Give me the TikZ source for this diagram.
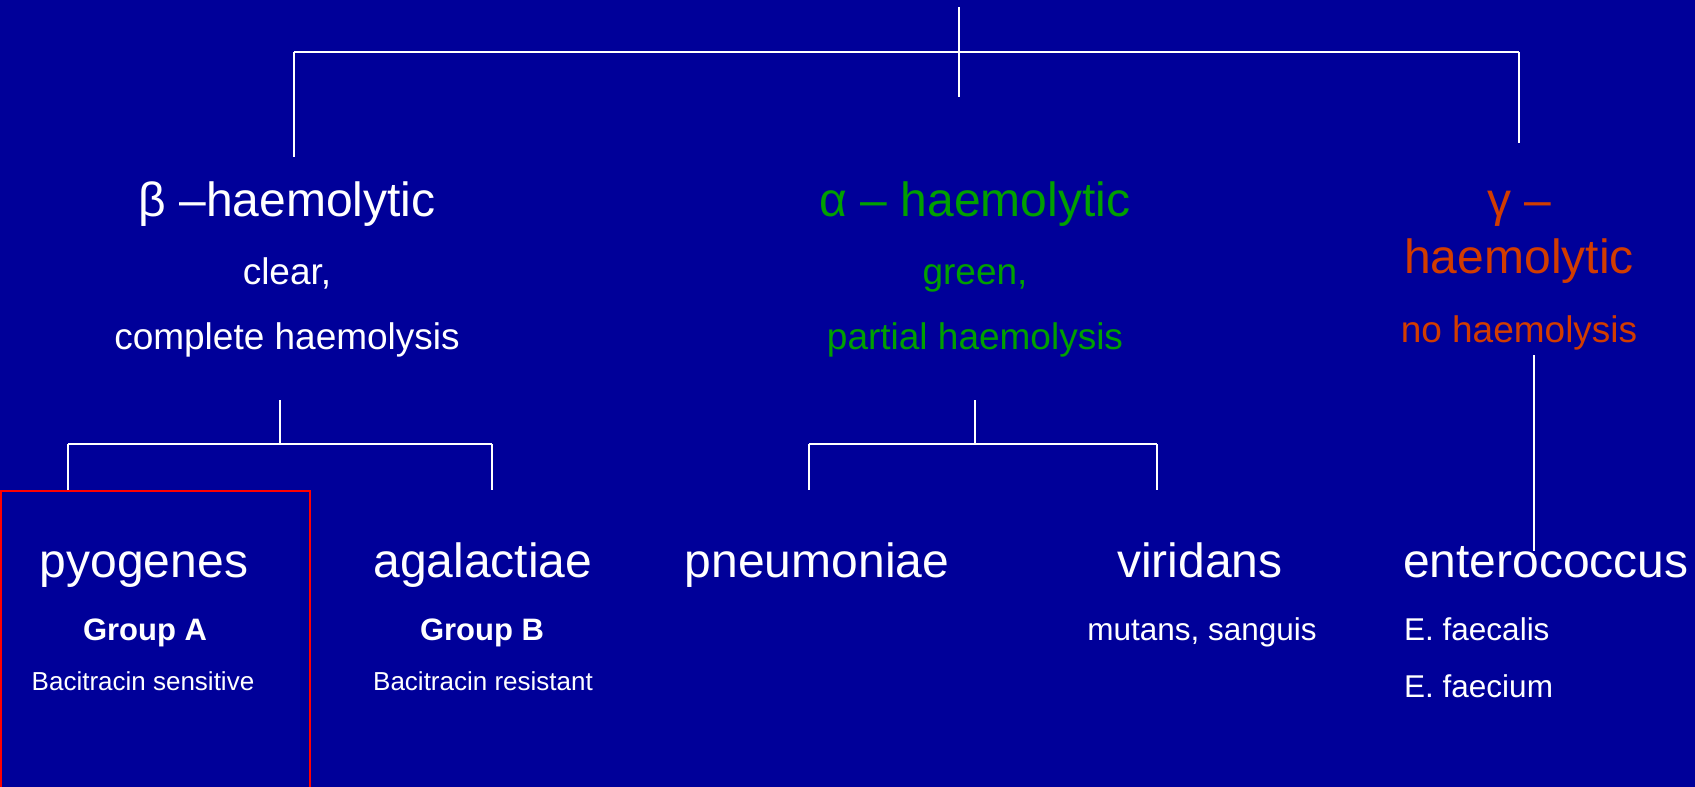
\documentclass[tikz,border=0pt]{standalone}
\usepackage{fontspec}
\setmainfont{Liberation Sans}
\definecolor{slidebg}{RGB}{0,0,153}
\definecolor{alphagreen}{RGB}{0,160,0}
\definecolor{gammared}{RGB}{210,60,0}
\begin{document}
\begin{tikzpicture}[x=1pt,y=-1pt,
  every node/.style={inner sep=0pt, anchor=base},
  big/.style={font=\fontsize{48}{56}\selectfont},
  mid/.style={font=\fontsize{37}{44}\selectfont},
  sub/.style={font=\fontsize{31.5}{38}\selectfont},
  grp/.style={font=\fontsize{31}{38}\selectfont\bfseries},
  note/.style={font=\fontsize{26}{32}\selectfont},
  link/.style={draw=white, line width=2pt}]

% page and background
\fill[slidebg] (0,0) rectangle (1695,787);
\useasboundingbox (0,0) rectangle (1695,787);

% haemolysis groups
\node[big, white] (beta) at (287,216) {β –haemolytic};
\node[mid, white] (betaA) at (287,284) {clear,};
\node[mid, white] (betaB) at (287,349) {complete haemolysis};

\node[big, alphagreen] (alpha) at (975,216) {α – haemolytic};
\node[mid, alphagreen] (alphaA) at (975,284) {green,};
\node[mid, alphagreen] (alphaB) at (975,349) {partial haemolysis};

\node[big, gammared] (gamma) at (1519,216) {γ –};
\node[big, gammared] (gammaA) at (1519,273) {haemolytic};
\node[mid, gammared] (gammaB) at (1519,342) {no haemolysis};

% species
\node[big, white] (pyo) at (144,577) {pyogenes};
\node[grp, white] (pyoA) at (145,640) {Group A};
\node[note, white] (pyoB) at (143,690) {Bacitracin sensitive};

\node[big, white] (aga) at (483,577) {agalactiae};
\node[grp, white] (agaA) at (482,640) {Group B};
\node[note, white] (agaB) at (483,690) {Bacitracin resistant};

\node[big, white] (pneu) at (817,577) {pneumoniae};

\node[big, white] (viri) at (1200,577) {viridans};
\node[sub, white] (viriA) at (1202,640) {mutans, sanguis};

\node[big, white, anchor=base west] (ent) at (1403,577) {enterococcus};
\node[sub, white, anchor=base west] (entA) at (1404,640) {E. faecalis};
\node[sub, white, anchor=base west] (entB) at (1404,697) {E. faecium};

% top-level tree
\coordinate (rootTop) at (959,7);
\coordinate (rootEnd) at (959,97);
\coordinate (barL) at (294,52);
\coordinate (barR) at (1519,52);
\coordinate (betaIn) at (294,157);
\coordinate (gammaIn) at (1519,143);
\draw[link] (rootTop) -- (rootEnd);
\draw[link] (barL) -- (barR);
\draw[link] (barL) -- (betaIn);
\draw[link] (barR) -- (gammaIn);

% beta branch
\coordinate (betaOut) at (280,400);
\coordinate (betaJoin) at (280,444);
\coordinate (betaL) at (68,444);
\coordinate (betaR) at (492,444);
\coordinate (pyoIn) at (68,490);
\coordinate (agaIn) at (492,490);
\draw[link] (betaOut) -- (betaJoin);
\draw[link] (betaL) -- (betaR);
\draw[link] (betaL) -- (pyoIn);
\draw[link] (betaR) -- (agaIn);

% alpha branch
\coordinate (alphaOut) at (975,400);
\coordinate (alphaJoin) at (975,444);
\coordinate (alphaL) at (809,444);
\coordinate (alphaR) at (1157,444);
\coordinate (pneuIn) at (809,490);
\coordinate (viriIn) at (1157,490);
\draw[link] (alphaOut) -- (alphaJoin);
\draw[link] (alphaL) -- (alphaR);
\draw[link] (alphaL) -- (pneuIn);
\draw[link] (alphaR) -- (viriIn);

% gamma branch
\coordinate (gammaOut) at (1534,355);
\coordinate (entIn) at (1534,551);
\draw[link] (gammaOut) -- (entIn);

% highlight round Group A
\draw[red, line width=2pt] (1,491) rectangle (310,800);
\end{tikzpicture}
\end{document}
